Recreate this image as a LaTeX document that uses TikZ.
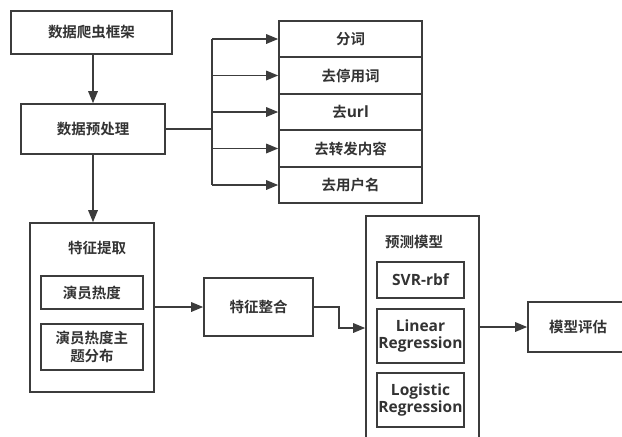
\documentclass[tikz,border=0pt]{standalone}
\usepackage{fontspec}
\setmainfont{Noto Sans CJK SC}[BoldFont={* Bold}]
\newfontfamily\latinfont{Open Sans}[Scale=1.07]
\usetikzlibrary{arrows.meta}
\definecolor{ln}{HTML}{3C3C3C}
\definecolor{tx}{HTML}{333333}
\tikzset{
  box/.style={draw=ln, line width=1.6pt, rectangle, inner sep=0pt, align=center,
     text=tx, font=\fontsize{14.5}{18.5}\selectfont\bfseries},
  lbl/.style={inner sep=0pt, text=tx, font=\fontsize{14.5}{18.5}\selectfont\bfseries},
  conn/.style={draw=ln, line width=1.6pt},
  arr/.style={conn, -{Triangle[length=12pt,width=9.5pt]}},
}
\begin{document}
\begin{tikzpicture}[x=1pt,y=-1pt]
\useasboundingbox (0,0) rectangle (622,437);
\clip (0,0) rectangle (622,437);
% top chain
\node[box, minimum width=161pt, minimum height=43pt] (crawl) at (91.5,32.5) {数据爬虫框架};
\node[box, minimum width=144pt, minimum height=50pt] (prep) at (93,129) {数据预处理};
% preprocessing steps
\node[box, minimum width=143pt, minimum height=36pt] (s1) at (350.5,39) {分词};
\node[box, minimum width=143pt, minimum height=37pt] (s2) at (350.5,75.5) {去停用词};
\node[box, minimum width=143pt, minimum height=36pt] (s3) at (350.5,112) {去{\latinfont url}};
\node[box, minimum width=143pt, minimum height=37pt] (s4) at (350.5,148.5) {去转发内容};
\node[box, minimum width=143pt, minimum height=36pt] (s5) at (350.5,185) {去用户名};
% feature extraction
\node[box, minimum width=124pt, minimum height=169pt] (feat) at (92,307.5) {};
\node[lbl] (feattitle) at (97,248) {特征提取};
\node[box, minimum width=102pt, minimum height=33pt] (f1) at (92,292.5) {演员热度};
\node[box, minimum width=102pt, minimum height=46pt] (f2) at (92,347) {演员热度主\\题分布};
\node[box, minimum width=109pt, minimum height=58pt] (integ) at (258.5,307) {特征整合};
% prediction models
\node[box, minimum width=113pt, minimum height=240pt] (pred) at (422.5,336) {};
\node[lbl] (predtitle) at (414,242) {预测模型};
\node[box, minimum width=87pt, minimum height=36pt] (m1) at (420.5,280) {\latinfont\bfseries SVR-rbf};
\node[box, minimum width=87pt, minimum height=54pt, text width=87pt] (m2) at (420.5,336) {\latinfont\bfseries Linear\\[-1pt]Regression};
\node[box, minimum width=87pt, minimum height=54pt, text width=87pt] (m3) at (420.5,400) {\latinfont\bfseries Logistic\\[-1pt]Regression};
\node[box, minimum width=100pt, minimum height=50pt] (eval) at (578,327) {模型评估};
% connectors
\draw[arr] (crawl.south -| prep.north) -- (prep.north);
\coordinate (bus) at (212,129);
\draw[conn] (prep.east) -- (bus);
\draw[conn] (bus |- s1.west) -- (bus |- s5.west);
\foreach \s in {s1,s2,s3,s4,s5} {\draw[arr] (bus |- \s.west) -- (\s.west);}
\draw[arr] (prep.south) -- (prep.south |- feat.north);
\draw[arr] (feat.east |- integ.west) -- (integ.west);
\coordinate (bend) at (339,307);
\draw[arr] (integ.east) -- (bend) -- (339,328) -- (pred.west |- 339,328);
\draw[arr] (pred.east |- eval.west) -- (eval.west);
\end{tikzpicture}
\end{document}
